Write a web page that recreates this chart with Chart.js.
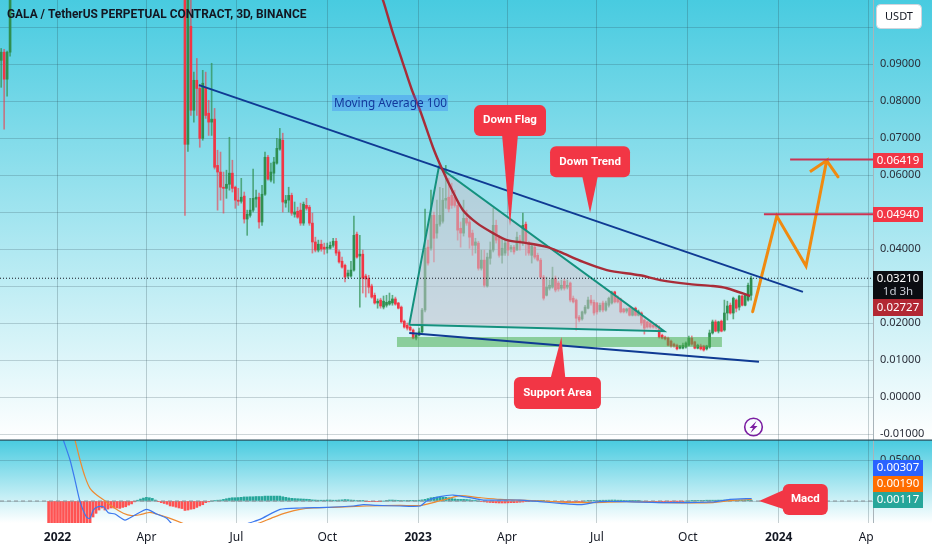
<!DOCTYPE html>
<html>
<head>
<meta charset="utf-8">
<title>GALA / TetherUS</title>
<script src="https://cdn.jsdelivr.net/npm/chart.js@4"></script>
<style>
  html, body { margin: 0; padding: 0; background: #fff; }
  canvas { display: block; }
</style>
</head>
<body>
<canvas id="canvas" width="932" height="550"></canvas>
<script>
// x axis is days since 1 Jan 2022, one candle every 3 days
const tickDays = [0, 90, 181, 273, 365, 455, 546, 638, 730, 821];
const tickLabels = ['2022', 'Apr', 'Jul', 'Oct', '2023', 'Apr', 'Jul', 'Oct', '2024', 'Apr'];
const yearLabels = ['2022', '2023', '2024'];

const priceTicks = [-0.01, 0, 0.01, 0.02, 0.03, 0.04, 0.05, 0.06, 0.07, 0.08, 0.09, 0.1];
const macdTicks = [0, 0.05];
const hiddenPriceLabel = 0.1; // sits behind the USDT button

// first 4 candles sit at the far left, the run after them starts at bar 43 (the ones between are above the pane)
const opens = [.0910,.0932,.0859,.0932,
  .1200,.0683,.1002,.0775,.0856,.0834,.0699,.0837,.0767,.0743,
  .0751,.0626,.0608,.0567,.0564,.0575,.0605,.0567,.0532,.0529,
  .0543,.0481,.0491,.0505,.0535,.0540,.0473,.0548,.0648,.0586,
  .0605,.0632,.0670,.0694,.0524,.0532,.0545,.0494,.0502,.0505,
  .0470,.0518,.0513,.0470,.0419,.0397,.0413,.0405,.0402,.0402,
  .0410,.0421,.0392,.0367,.0356,.0327,.0327,.0343,.0440,.0381,
  .0386,.0327,.0321,.0300,.0275,.0254,.0262,.0243,.0248,.0251,
  .0254,.0265,.0254,.0243,.0205,.0194,.0189,.0181,.0159,.0167,
  .0176,.0235,.0405,.0402,.0491,.0443,.0467,.0475,.0532,.0540,
  .0545,.0540,.0518,.0456,.0443,.0483,.0473,.0443,.0410,.0416,
  .0348,.0370,.0300,.0375,.0397,.0464,.0432,.0383,.0389,.0419,
  .0400,.0405,.0397,.0424,.0419,.0467,.0416,.0383,.0405,.0383,
  .0370,.0324,.0275,.0294,.0297,.0321,.0308,.0294,.0313,.0297,
  .0308,.0267,.0262,.0216,.0211,.0227,.0240,.0262,.0256,.0254,
  .0235,.0254,.0235,.0248,.0254,.0284,.0267,.0262,.0238,.0232,
  .0240,.0221,.0240,.0221,.0227,.0208,.0203,.0200,.0194,.0194,
  .0186,.0167,.0162,.0159,.0151,.0143,.0140,.0132,.0132,.0135,
  .0140,.0159,.0149,.0132,.0138,.0138,.0130,.0135,.0173,.0203,
  .0178,.0205,.0181,.0227,.0248,.0227,.0262,.0243,.0273,.0248,
  .0262,.0275];
const highs = [.0942,.0940,.0935,.1300,
  .1250,.1300,.1150,.0878,.0915,.0845,.0883,.0878,.0802,.0902,
  .0780,.0667,.0662,.0608,.0613,.0702,.0640,.0570,.0564,.0591,
  .0554,.0505,.0537,.0616,.0559,.0551,.0572,.0662,.0653,.0632,
  .0648,.0699,.0726,.0713,.0545,.0567,.0551,.0527,.0513,.0524,
  .0527,.0537,.0518,.0497,.0432,.0424,.0424,.0416,.0416,.0419,
  .0429,.0429,.0397,.0378,.0359,.0343,.0367,.0489,.0446,.0437,
  .0397,.0332,.0329,.0305,.0281,.0265,.0267,.0273,.0275,.0281,
  .0275,.0270,.0256,.0246,.0208,.0200,.0192,.0184,.0173,.0186,
  .0240,.0508,.0424,.0559,.0500,.0532,.0567,.0564,.0626,.0591,
  .0578,.0559,.0532,.0473,.0532,.0505,.0486,.0451,.0429,.0421,
  .0397,.0397,.0389,.0419,.0510,.0478,.0437,.0429,.0424,.0424,
  .0410,.0410,.0446,.0437,.0497,.0473,.0421,.0410,.0410,.0389,
  .0375,.0329,.0324,.0316,.0351,.0327,.0313,.0316,.0319,.0316,
  .0311,.0273,.0265,.0221,.0232,.0248,.0270,.0275,.0262,.0256,
  .0254,.0259,.0259,.0270,.0286,.0286,.0273,.0267,.0240,.0240,
  .0243,.0240,.0243,.0235,.0230,.0211,.0205,.0203,.0197,.0197,
  .0192,.0170,.0165,.0162,.0154,.0146,.0143,.0140,.0146,.0149,
  .0165,.0165,.0151,.0143,.0143,.0140,.0140,.0181,.0208,.0208,
  .0205,.0208,.0262,.0259,.0254,.0270,.0265,.0275,.0275,.0278,
  .0308,.0327];
const lows = [.0837,.0724,.0813,.0921,
  .0491,.0664,.0761,.0743,.0761,.0675,.0694,.0753,.0707,.0707,
  .0616,.0505,.0532,.0497,.0537,.0559,.0554,.0510,.0518,.0524,
  .0470,.0437,.0486,.0500,.0513,.0456,.0464,.0545,.0586,.0581,
  .0578,.0629,.0667,.0500,.0513,.0500,.0491,.0486,.0483,.0464,
  .0464,.0505,.0464,.0389,.0392,.0392,.0394,.0386,.0389,.0400,
  .0405,.0383,.0362,.0348,.0311,.0321,.0324,.0340,.0375,.0243,
  .0281,.0270,.0281,.0267,.0251,.0240,.0240,.0238,.0243,.0248,
  .0248,.0248,.0238,.0200,.0186,.0181,.0178,.0157,.0154,.0165,
  .0173,.0230,.0356,.0397,.0365,.0429,.0462,.0470,.0510,.0500,
  .0510,.0513,.0424,.0405,.0435,.0464,.0402,.0383,.0389,.0343,
  .0343,.0297,.0297,.0359,.0392,.0416,.0378,.0362,.0383,.0383,
  .0392,.0386,.0397,.0397,.0410,.0383,.0383,.0362,.0373,.0367,
  .0319,.0262,.0273,.0289,.0294,.0284,.0286,.0289,.0289,.0292,
  .0257,.0254,.0181,.0203,.0208,.0224,.0238,.0248,.0221,.0224,
  .0230,.0230,.0232,.0243,.0251,.0254,.0254,.0227,.0227,.0227,
  .0219,.0219,.0219,.0219,.0194,.0170,.0186,.0186,.0186,.0184,
  .0159,.0157,.0154,.0138,.0135,.0135,.0127,.0130,.0130,.0132,
  .0138,.0140,.0130,.0130,.0127,.0124,.0127,.0132,.0170,.0176,
  .0173,.0176,.0178,.0208,.0224,.0211,.0230,.0235,.0246,.0246,
  .0259,.0262];
const closes = [.0932,.0859,.0932,.1200,
  .0683,.1150,.0775,.0856,.0834,.0699,.0848,.0761,.0743,.0751,
  .0621,.0608,.0567,.0564,.0575,.0605,.0564,.0532,.0529,.0540,
  .0481,.0494,.0505,.0537,.0540,.0473,.0548,.0648,.0589,.0608,
  .0635,.0672,.0697,.0527,.0532,.0545,.0497,.0500,.0486,.0470,
  .0521,.0510,.0470,.0419,.0397,.0413,.0400,.0400,.0405,.0410,
  .0421,.0389,.0365,.0351,.0324,.0335,.0343,.0437,.0378,.0386,
  .0321,.0319,.0297,.0270,.0254,.0259,.0246,.0259,.0256,.0259,
  .0265,.0251,.0240,.0203,.0189,.0186,.0181,.0159,.0167,.0176,
  .0235,.0402,.0362,.0491,.0429,.0467,.0491,.0532,.0537,.0508,
  .0518,.0518,.0451,.0443,.0483,.0470,.0432,.0410,.0419,.0348,
  .0370,.0302,.0378,.0397,.0464,.0424,.0383,.0402,.0416,.0397,
  .0405,.0392,.0432,.0419,.0464,.0416,.0389,.0408,.0378,.0370,
  .0324,.0267,.0297,.0302,.0321,.0289,.0292,.0302,.0294,.0302,
  .0262,.0257,.0213,.0208,.0230,.0243,.0262,.0254,.0227,.0230,
  .0248,.0235,.0254,.0267,.0281,.0257,.0257,.0230,.0230,.0238,
  .0221,.0238,.0221,.0230,.0200,.0186,.0189,.0189,.0189,.0189,
  .0162,.0159,.0157,.0140,.0138,.0138,.0130,.0138,.0140,.0146,
  .0159,.0143,.0132,.0140,.0130,.0127,.0138,.0173,.0203,.0178,
  .0203,.0178,.0227,.0246,.0227,.0267,.0240,.0273,.0248,.0275,
  .0302,.0321];

// moving average 100
const maDays = [325, 329.5, 338.6, 348.7, 358.8, 366.9, 380, 388.9, 400.3, 410.4, 424.6, 440.8, 455, 475, 496, 508.6, 532, 556, 589.6, 610, 640, 663, 677.6, 701];
const maValues = [.1100, .1072, .0991, .0910, .0829, .0775, .0675, .0618, .0554, .0505, .0470, .0443, .0424, .0416, .0405, .0392, .0365, .0343, .0329, .0316, .0305, .0300, .0294, .0273];

// macd pane, histogram starts at bar -3
const histValues = [-.07,-.068,-.066,-.063,-.06,-.057,-.054,-.05,-.046,-.043,-.04,-.037,-.034,-.03,-.028,
  -.0195,-.015,-.011,-.0085,-.011,-.0098,-.0085,-.0085,-.0085,-.009,-.0078,-.007,-.005,-.0035,-.001,
  .001,.0024,.0036,.0045,.004,.0032,.0012,
  -.0004,-.002,-.003,-.004,-.006,-.0065,-.0075,-.0085,-.0092,-.0115,-.011,-.01,-.0095,-.0078,-.006,-.0045,
  -.002,-.001,0,
  .0005,.001,.0012,.002,.0028,.0035,.004,.004,.0042,.0045,
  .005,.005,.0052,.0052,.0055,.0055,.0055,.006,.006,.006,.006,.006,.006,
  .0052,.0045,.0038,.0033,.003,.0028,.0026,.0024,.0022,.002,.0014,.0012,
  .001,.001,.001,.0012,.0012,.001,.001,.0012,.0014,.0018,.0016,.0012,.001,.0006,.0004,.0002,-.0003,-.0004,-.0004,-.0003,-.0004,-.0002,0,.0008,.0012,.0012,.001,.0008,.0006,.0006,.0004,.0004,.0004,.0006,.001,.0014,
  .002,.003,.004,.0045,.005,.005,.0048,.0045,.004,.003,.0025,.002,.002,.002,.0018,.0015,
  .001,.0004,0,-.0005,-.001,-.0015,-.0018,
  -.002,-.0022,-.0024,-.0024,-.0024,-.0022,-.002,-.002,-.0018,-.0015,
  -.0012,-.0008,-.0004,0,.0002,.0004,.0004,.0002,-.0002,-.0004,-.0006,-.0008,-.001,-.001,-.0008,-.0008,-.0006,-.0006,-.0004,-.0004,-.0002,0,.0002,.0004,.0004,.0006,
  .0009,.001,.001,.0011,.0012,.0012,.001,.001,.0008,.0006,
  .0004,.0002,.0002,.0001,0,-.0002,-.0003,-.0004,-.0004,-.0004,-.0003,-.0003,-.0002,-.0002,-.0002,-.0001,-.0001,-.0001,-.0001,0,0,.0001,.0002,.0003,.0004,
  .0008,.001,.001,.001,.001,.0011,.0011,.0011,.0012,.0012,.0012,.0012,.0012,.0012,.0012,.0012,.00117];
const macdDays = [5.9, 12.7, 17.7, 22.8, 29.5, 32.9, 36.2, 41.3, 46.4, 51.4, 58.2, 68.3, 78.4, 90.3, 100.4, 110.5, 117.2, 150, 170, 193.1, 205, 225.3, 245.5, 272.5, 299.4, 309.6, 323, 346.7, 367, 373.6, 387, 400.6, 417.6, 431, 468, 488, 508.6, 529, 549, 576, 616.6, 663.5, 680.6, 702.6];
const macdValues = [.0744, .05, .0256, -.0008, -.0199, -.0211, -.011, -.0069, -.0069, -.0142, -.0159, -.0232, -.0171, -.0102, -.0159, -.0211, -.0293, -.045, -.04, -.0272, -.0224, -.0102, -.0085, -.0077, -.0061, -.0045, -.0053, -.0061, -.0061, 0, .0053, .0073, .0041, .0012, .0012, -.0008, -.0028, -.0045, -.0008, -.0008, -.002, -.0012, .002, .00307];
const signalDays = [17.7, 22.8, 27.8, 32.9, 39.7, 48, 56.5, 66.6, 75, 83.5, 93.6, 103.7, 113.9, 126.7, 160, 203.2, 218.4, 232, 245.5, 258.8, 279, 313, 346.7, 367, 380, 394, 407, 427.6, 448, 468, 515.4, 542, 576, 616.6, 663.5, 680.6, 702.6];
const signalValues = [.0744, .05, .0297, .0154, .0073, .0004, -.0077, -.015, -.0179, -.0167, -.0138, -.0171, -.0211, -.0272, -.045, -.0272, -.0199, -.0142, -.0102, -.0085, -.0077, -.0061, -.0053, -.0055, -.002, .0024, .0065, .0041, .002, .0012, -.0016, -.002, -.0008, -.002, -.002, .0004, .0019];

// drawings
const trendDays = [143.2, 754.5], trendPrices = [.0843, .0284];
const lowerDays = [356, 710], lowerPrices = [.0173, .0095];
const flagDays = [356, 386, 614, 356], flagPrices = [.0195, .0622, .0178, .0195];
const zoneDays = [343.6, 672.5, 672.5, 343.6], zonePrices = [.0162, .0162, .0135, .0135];
const targetOneDays = [715, 825.4], targetOnePrices = [.0494, .0494];
const targetTwoDays = [741.5, 825.4], targetTwoPrices = [.06419, .06419];
const arrowDays = [703.6, 728, 757.6, 778.5, 761.6, 778.5, 790], arrowPrices = [.02305, .0489, .0354, .0639, .0609, .0639, .0595];
const lastPriceDays = [-58.2, 825.4], lastPrices = [.0321, .0321];
const zeroDays = [-58.2, 825.4], zeroValues = [0, 0];

const callouts = [
  { text: 'Down Flag', day: 458, value: .0747, w: 72, h: 31, tipDay: 458, tipValue: .0462, scale: 'y' },
  { text: 'Down Trend', day: 539, value: .0636, w: 80, h: 31, tipDay: 539, tipValue: .0497, scale: 'y' },
  { text: 'Support Area', day: 506, value: .0011, w: 87, h: 32, tipDay: 510, tipValue: .0162, scale: 'y' },
  { text: 'Macd', day: 756.9, value: .0018, w: 45, h: 31, tipDay: 710, tipValue: 0, scale: 'macd' }
];

const RED = '#f23645', GREEN = '#2f8f50';
const FONT = '"Noto Sans", sans-serif';
const HEAVY_FONT = 'Roboto, sans-serif';

function barDay(i) {
  return (i < 4 ? i - 19 : i + 39) * 3;
}
function points(days, values) {
  return days.map((d, i) => ({ x: d, y: values[i] }));
}
function lineSet(days, values, color, width, extra) {
  return Object.assign({
    type: 'line', data: points(days, values), borderColor: color, borderWidth: width,
    pointRadius: 0, fill: false, tension: 0, yAxisID: 'y', order: 1
  }, extra || {});
}
function isYearTick(c) {
  return c.tick && yearLabels.includes(tickLabels[tickDays.indexOf(c.tick.value)]);
}
// panes run right up to the canvas top, so no room for half a label
function fitPane(s) {
  s.width = 59;
  s.paddingTop = 0;
  s.paddingBottom = 0;
}

const wicks = opens.map((o, i) => ({ x: barDay(i), y: [lows[i], highs[i]] }));
const bodies = opens.map((o, i) => ({ x: barDay(i), y: [o, closes[i]] }));
const upFlags = opens.map((o, i) => closes[i] >= o);
const histBars = histValues.map((v, i) => ({ x: (i - 3) * 3, y: [0, v] }));

const paneBackground = {
  id: 'paneBackground',
  beforeDraw(chart) {
    const { ctx, width, scales } = chart;
    [scales.y, scales.macd].forEach(s => {
      const g = ctx.createLinearGradient(0, s.top, 0, s.bottom);
      g.addColorStop(0, '#48cbe0');
      g.addColorStop(1, '#ffffff');
      ctx.fillStyle = g;
      ctx.fillRect(0, s.top, width, s.bottom - s.top);
    });
  },
  afterDatasetsDraw(chart) {
    const { ctx, width, scales } = chart;
    // pane separator
    ctx.fillStyle = '#2b4a58';
    ctx.fillRect(0, scales.y.bottom - 0.5, width, 1.2);
  }
};

function tag(ctx, top, h, color, text, sub) {
  ctx.fillStyle = color;
  ctx.fillRect(873, top, 50, h);
  ctx.fillStyle = '#fff';
  ctx.font = '11.5px ' + FONT;
  ctx.textAlign = 'center';
  ctx.textBaseline = 'middle';
  if (sub) {
    ctx.fillText(text, 898, top + 8);
    ctx.fillStyle = '#c8ccd4';
    ctx.fillText(sub, 898, top + 21);
  } else {
    ctx.fillText(text, 898, top + h / 2);
  }
}

const overlays = {
  id: 'overlays',
  afterDraw(chart) {
    const { ctx, scales } = chart;
    const x = scales.x;

    // clipped axis label at the price scale edge
    ctx.fillStyle = '#fff';
    ctx.fillRect(873, scales.macd.bottom, 59, 30);

    // title
    ctx.fillStyle = '#131722';
    ctx.font = 'bold 11.9px ' + HEAVY_FONT;
    ctx.textAlign = 'left';
    ctx.textBaseline = 'middle';
    ctx.fillText('GALA / TetherUS PERPETUAL CONTRACT, 3D, BINANCE', 7, 15.5);

    // moving average note
    ctx.fillStyle = 'rgba(41,98,255,0.28)';
    ctx.fillRect(332, 95, 116, 16);
    ctx.fillStyle = '#12389c';
    ctx.font = '11.8px ' + FONT;
    ctx.textAlign = 'left';
    ctx.fillText('Moving Average 100', 334, 103.5);

    // callouts
    callouts.forEach(c => {
      const cx = x.getPixelForValue(c.day), cy = scales[c.scale].getPixelForValue(c.value);
      const tx = x.getPixelForValue(c.tipDay), ty = scales[c.scale].getPixelForValue(c.tipValue);
      const l = cx - c.w / 2, t = cy - c.h / 2;
      ctx.fillStyle = RED;
      ctx.beginPath();
      ctx.roundRect(l, t, c.w, c.h, 6);
      ctx.fill();
      ctx.beginPath();
      if (tx < l) {
        ctx.moveTo(l + 2, cy - 10);
        ctx.lineTo(tx, ty);
        ctx.lineTo(l + 2, cy + 10);
      } else if (ty > cy) {
        ctx.moveTo(tx - 8, t + c.h - 2);
        ctx.lineTo(tx, ty);
        ctx.lineTo(tx + 8, t + c.h - 2);
      } else {
        ctx.moveTo(tx - 11, t + 2);
        ctx.lineTo(tx, ty);
        ctx.lineTo(tx + 4, t + 2);
      }
      ctx.closePath();
      ctx.fill();
      ctx.fillStyle = '#fff';
      ctx.font = 'bold 11.5px ' + HEAVY_FONT;
      ctx.textAlign = 'center';
      ctx.textBaseline = 'middle';
      ctx.fillText(c.text, cx, cy);
    });

    // price tags
    tag(ctx, 153, 15, RED, '0.06419');
    tag(ctx, 207, 15, RED, '0.04940');
    tag(ctx, 271, 28, '#0b0d12', '0.03210', '1d 3h');
    tag(ctx, 299, 17, '#b22833', '0.02727');
    tag(ctx, 460, 16, '#2962ff', '0.00307');
    tag(ctx, 476, 16, '#ff6d00', '0.00190');
    tag(ctx, 492, 16, '#26a69a', '0.00117');

    // currency button
    ctx.fillStyle = '#fff';
    ctx.strokeStyle = '#d1d4dc';
    ctx.lineWidth = 1;
    ctx.beginPath();
    ctx.roundRect(876.5, 4.5, 45, 24, 4);
    ctx.fill();
    ctx.stroke();
    ctx.fillStyle = '#131722';
    ctx.font = '11px ' + FONT;
    ctx.textAlign = 'center';
    ctx.fillText('USDT', 899, 17);

    // earnings style marker
    ctx.strokeStyle = '#7b1fa2';
    ctx.lineWidth = 1.6;
    ctx.beginPath();
    ctx.arc(753.5, 427, 8.8, 0, Math.PI * 2);
    ctx.stroke();
    ctx.fillStyle = '#7b1fa2';
    ctx.beginPath();
    ctx.moveTo(756.5, 421);
    ctx.lineTo(749.5, 428);
    ctx.lineTo(753, 428);
    ctx.lineTo(750.5, 433);
    ctx.lineTo(757.5, 426);
    ctx.lineTo(754, 426);
    ctx.closePath();
    ctx.fill();
  }
};

const ctx = document.getElementById('canvas').getContext('2d');
const myChart = new Chart(ctx, {
  data: {
    datasets: [
      // wicks and bodies
      { type: 'bar', data: wicks, barThickness: 1, grouped: false, yAxisID: 'y', order: 6,
        backgroundColor: c => upFlags[c.dataIndex] ? 'rgba(47,143,80,0.7)' : 'rgba(242,54,69,0.6)' },
      { type: 'bar', data: bodies, barThickness: 2, grouped: false, yAxisID: 'y', order: 5,
        backgroundColor: c => upFlags[c.dataIndex] ? GREEN : RED },
      lineSet(zoneDays.concat(zoneDays[0]), zonePrices.concat(zonePrices[0]), 'transparent', 0,
        { fill: 'shape', backgroundColor: 'rgba(76,175,80,0.55)', order: 4 }),
      lineSet(flagDays, flagPrices, '#14917e', 2,
        { fill: 'shape', backgroundColor: 'rgba(200,195,205,0.55)', order: 3 }),
      lineSet(lastPriceDays, lastPrices, '#131722', 1, { borderDash: [1, 2], order: 2 }),
      lineSet(maDays, maValues, '#a92c38', 2.4, { tension: 0.3 }),
      lineSet(trendDays, trendPrices, '#0f3a93', 2),
      lineSet(lowerDays, lowerPrices, '#0f3a93', 2),
      lineSet(targetOneDays, targetOnePrices, '#cc3352', 2),
      lineSet(targetTwoDays, targetTwoPrices, '#cc3352', 2),
      lineSet(arrowDays, arrowPrices, '#f08a10', 3, { borderJoinStyle: 'miter', borderCapStyle: 'round' }),
      // macd pane
      { type: 'bar', data: histBars, barThickness: 2, grouped: false, yAxisID: 'macd', order: 5,
        backgroundColor: c => histValues[c.dataIndex] >= 0 ? '#26a69a' : '#ff5252' },
      lineSet(zeroDays, zeroValues, '#8a9298', 1, { borderDash: [4, 3], yAxisID: 'macd', order: 4 }),
      lineSet(macdDays, macdValues, '#3b78ee', 1.2, { yAxisID: 'macd', tension: 0.2 }),
      lineSet(signalDays, signalValues, '#ee8a30', 1.2, { yAxisID: 'macd', tension: 0.2 })
    ]
  },
  options: {
    responsive: false,
    animation: false,
    events: [],
    layout: { padding: 0 },
    plugins: { legend: { display: false }, tooltip: { enabled: false } },
    scales: {
      x: {
        type: 'linear', min: -58.2, max: 825.4, offset: false,
        grid: { color: 'rgba(42,70,80,0.25)', offset: false, drawTicks: false },
        border: { display: false },
        afterBuildTicks: s => { s.ticks = tickDays.map(v => ({ value: v })); },
        afterFit: s => { s.height = 27; s.paddingLeft = 0; s.paddingRight = 0; },
        ticks: {
          autoSkip: false, maxRotation: 0, padding: 7, color: '#131722',
          font: c => ({ family: FONT, size: 12, weight: isYearTick(c) ? 'bold' : 'normal' }),
          callback: v => tickLabels[tickDays.indexOf(v)]
        }
      },
      y: {
        type: 'linear', position: 'right', stack: 'panes', stackWeight: 440, weight: 1,
        min: -0.01162, max: 0.1073,
        grid: { color: 'rgba(42,70,80,0.22)', drawTicks: false },
        border: { color: '#a9b4ba' },
        afterBuildTicks: s => { s.ticks = priceTicks.map(v => ({ value: v })); },
        afterFit: fitPane,
        ticks: { padding: 7, color: '#2a2e39', font: { family: FONT, size: 11 }, callback: v => v === hiddenPriceLabel ? '' : v.toFixed(5) }
      },
      macd: {
        type: 'linear', position: 'right', stack: 'panes', stackWeight: 83, weight: 2,
        min: -0.0268, max: 0.0744,
        grid: { color: 'rgba(42,70,80,0.22)', drawTicks: false },
        border: { color: '#a9b4ba' },
        afterBuildTicks: s => { s.ticks = macdTicks.map(v => ({ value: v })); },
        afterFit: fitPane,
        ticks: { padding: 7, color: '#2a2e39', font: { family: FONT, size: 11 }, callback: v => v.toFixed(5) }
      }
    }
  },
  plugins: [paneBackground, overlays]
});
</script>
</body>
</html>
